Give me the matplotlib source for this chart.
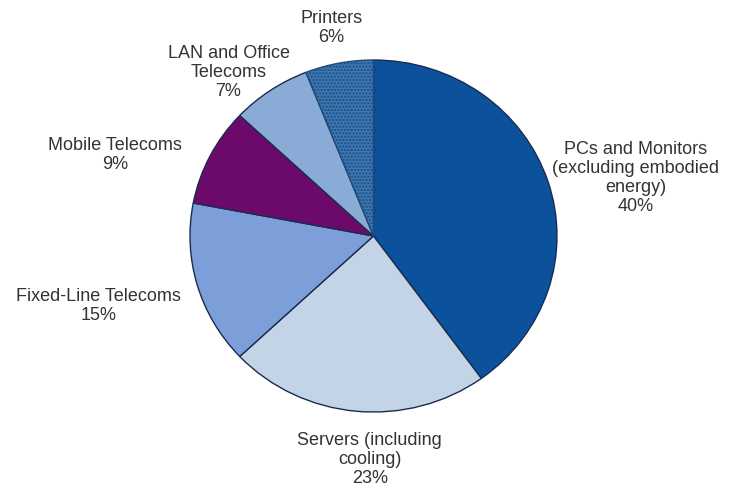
import matplotlib
matplotlib.use("Agg")
import matplotlib.pyplot as plt

categories = ["PCs and Monitors\n(excluding embodied\nenergy)", "Servers (including\ncooling)",
              "Fixed-Line Telecoms", "Mobile Telecoms", "LAN and Office\nTelecoms", "Printers"]
shares = [40, 23, 15, 9, 7, 6]
colors = ["#0B519C", "#C3D4E6", "#7C9FD9", "#6B0A6B", "#8AABD6", "#3A77B3"]
label_pos = [(1.43, 0.33), (-0.02, -1.27), (-1.50, -0.40), (-1.41, 0.46), (-0.79, 0.93), (-0.23, 1.18)]

plt.rcParams['font.family'] = ['Liberation Sans', 'DejaVu Sans']
fig = plt.figure(figsize=(7.30, 4.91), dpi=100)
ax = fig.add_axes([190/730, (491-412)/491, 367/730, 352/491])
wedges, _ = ax.pie(shares, colors=colors, startangle=90, counterclock=False,
                   wedgeprops=dict(edgecolor="#1B2B4F", linewidth=1.0))
ax.set_aspect('auto')
ax.set_xlim(-1, 1)
ax.set_ylim(-1, 1)
wedges[5].set_hatch('.....')
wedges[5].set_edgecolor("#204A78")

for cat, val, (x, y) in zip(categories, shares, label_pos):
    ax.text(x, y, f"{cat}\n{val}%", ha='center', va='center', fontsize=13,
            color="#333333", linespacing=1.15, clip_on=False)

fig.savefig("out.png", dpi=100)
